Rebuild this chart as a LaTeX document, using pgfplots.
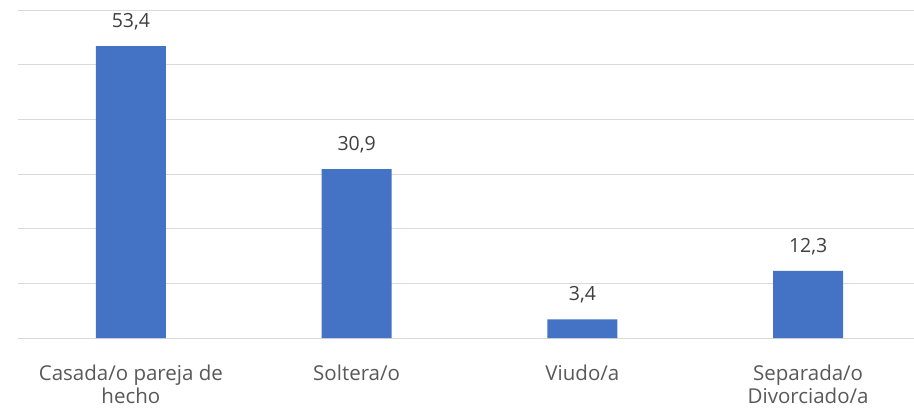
\documentclass[border=0pt]{standalone}
\usepackage{pgfplots}
\pgfplotsset{compat=1.18}
\usepackage{fontspec}
\setmainfont{Open Sans}
\definecolor{barblue}{HTML}{4472C4}
\definecolor{gridgray}{HTML}{D9D9D9}
\definecolor{labgray}{HTML}{595959}
\definecolor{valgray}{HTML}{404040}
\begin{document}
\begin{tikzpicture}[x=1bp,y=1bp]
\useasboundingbox (-18,-71) rectangle (896,338);
\begin{axis}[
  at={(0,0)}, anchor=south west,
  width=903bp, height=328bp, scale only axis,
  xmin=-0.5, xmax=3.5, ymin=0, ymax=60,
  ytick={0,10,...,60}, yticklabels={},
  xtick=data,
  xticklabels={{Casada/o pareja de\\hecho},{Soltera/o},{Viudo/a},{Separada/o\\Divorciado/a}},
  xticklabel style={align=center, font=\fontsize{20.5bp}{23bp}\selectfont, text=labgray, yshift=-23bp},
  major tick length=0,
  axis line style={draw=none},
  ymajorgrids, grid style={gridgray, line width=1bp},
  ybar, bar width=70bp,
  nodes near coords,
  every node near coord/.append style={font=\fontsize{19.5bp}{22bp}\selectfont, text=valgray, anchor=base, yshift=18.5bp, inner sep=0pt},
  clip=false,
  /pgf/number format/.cd, use comma, fixed, fixed zerofill, precision=1, assume math mode=true,
]
\addplot[fill=barblue, draw=none] coordinates {(0,53.4) (1,30.9) (2,3.4) (3,12.3)};
\end{axis}
\end{tikzpicture}
\end{document}
